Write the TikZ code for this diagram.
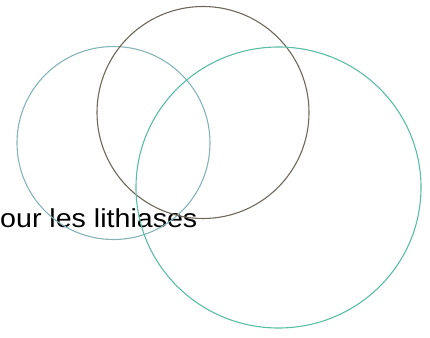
\documentclass[tikz,border=0pt]{standalone}
\usepackage{fontspec}
\setmainfont{Liberation Sans}
\usepackage{tikz}
\usetikzlibrary{positioning}

\definecolor{ringblue}{HTML}{86B4B7}
\definecolor{ringbrown}{HTML}{6E685C}
\definecolor{ringgreen}{HTML}{5CBDA6}

\tikzset{
    ring/.style={line width=1.1pt},
    caption/.style={inner sep=0pt, anchor=base west, text=black,
        font=\fontsize{26}{28}\selectfont, xscale=1.1}
}

\begin{document}
\begin{tikzpicture}[x=1pt, y=-1pt]

    \useasboundingbox (0,0) rectangle (430,337);

    % ============================================================
    % LABEL
    % ============================================================
    \node[caption] (lithiases) at (0,227) {our les lithiases};

    % ============================================================
    % LEFT RING
    % ============================================================
    \draw[ring, ringblue] (113.5,143) circle (96.5);

    % ============================================================
    % TOP RING
    % ============================================================
    \draw[ring, ringbrown] (203,112.5) circle (106);

    % ============================================================
    % RIGHT RING
    % ============================================================
    \draw[ring, ringgreen] (278.5,187.5) ellipse (142.5 and 140.5);

\end{tikzpicture}
\end{document}
